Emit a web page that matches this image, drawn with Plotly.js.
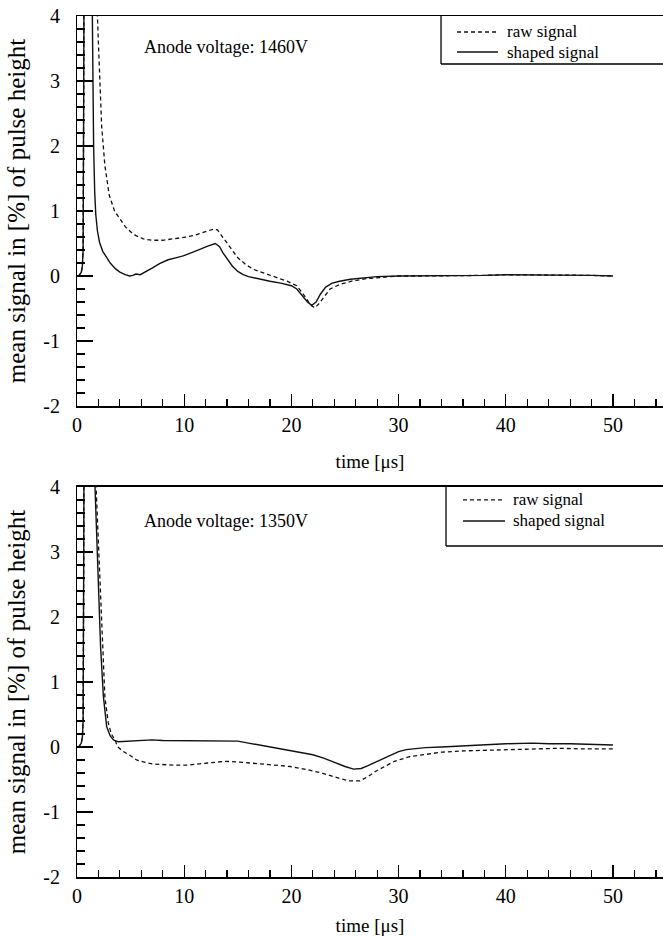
<!DOCTYPE html>
<html>
<head>
<meta charset="utf-8">
<script src="https://cdn.plot.ly/plotly-3.0.1.min.js"></script>
<style>html,body{margin:0;padding:0;background:#fff}#chart{width:663px;height:936px}</style>
</head>
<body>
<div id="chart"></div>
<script>
// ---- Data (time in µs, signal in % of pulse height) ----
const topShapedX = [0,0.2,0.4,0.5,0.57,0.6,0.63,0.7,1.0,1.3,1.42,1.47,1.55,1.65,1.75,1.9,2.1,2.4,2.7,3.1,3.6,4.0,4.5,4.9,5.2,5.5,5.9,6.5,7.0,7.7,8.5,9.2,9.9,10.7,11.5,12.2,12.9,13.3,13.6,14.0,14.5,15.0,15.5,16.0,17.0,18.0,19.0,20.0,20.5,21.0,21.5,21.9,22.3,22.7,23.2,23.8,24.5,25.5,26.5,28,30,32,34,36,38,40,42,44,46,48,50];
const topShapedY = [0,0.01,0.06,0.15,0.4,1.0,3,8,100,20,4.2,3,2,1.3,0.95,0.7,0.52,0.38,0.3,0.2,0.11,0.06,0.02,0.0,0.01,0.03,0.02,0.07,0.12,0.19,0.25,0.28,0.31,0.36,0.42,0.46,0.5,0.45,0.36,0.26,0.15,0.07,0.02,-0.01,-0.05,-0.08,-0.11,-0.15,-0.2,-0.3,-0.4,-0.45,-0.4,-0.28,-0.17,-0.11,-0.08,-0.05,-0.03,-0.01,0.0,0.0,0.0,0.01,0.01,0.02,0.02,0.02,0.02,0.01,0.0];
const topRawX = [0,0.2,0.4,0.5,0.57,0.6,0.63,0.7,1.0,1.5,1.9,2.1,2.3,2.6,3.0,3.5,4.0,4.5,5.0,5.5,6.2,7.0,8.0,9.0,10.2,11.0,12.0,12.7,13.1,13.5,14.0,14.5,15.0,15.8,16.5,17.7,18.5,19.6,20.5,21.2,21.8,22.2,22.6,23.1,23.6,24.5,25.6,27,28.4,30,32,34,36,38,40,42,44,46,48,50];
const topRawY = [0,0.01,0.06,0.15,0.4,1.0,3,8,100,30,4.0,3.0,2.3,1.7,1.25,1.0,0.88,0.76,0.68,0.62,0.57,0.55,0.55,0.57,0.6,0.63,0.68,0.72,0.71,0.62,0.5,0.38,0.28,0.17,0.1,0.03,-0.02,-0.08,-0.15,-0.3,-0.45,-0.49,-0.42,-0.3,-0.2,-0.13,-0.08,-0.04,-0.02,0.0,0.0,0.0,0.01,0.01,0.02,0.02,0.02,0.02,0.01,0.0];

const botShapedX = [0,0.2,0.4,0.5,0.57,0.6,0.63,0.7,1.0,1.5,1.68,2.0,2.2,2.46,2.77,3.1,3.4,3.86,5,6,7,8,9,10,11,12,13,14,15,16,17,18,19,20,21,22,23,24,25,25.8,26.5,27.1,28,28.9,30,30.7,32.5,34,36,38,40,42.5,44,46,48,50];
const botShapedY = [0,0.01,0.06,0.15,0.4,1.0,3,8,100,20,4,2.56,1.54,0.78,0.31,0.17,0.11,0.08,0.09,0.1,0.11,0.1,0.1,0.09,0.09,0.1,0.09,0.1,0.09,0.06,0.03,0.0,-0.02,-0.05,-0.08,-0.12,-0.17,-0.24,-0.3,-0.34,-0.33,-0.29,-0.22,-0.15,-0.07,-0.04,-0.01,0.0,0.02,0.04,0.05,0.06,0.05,0.05,0.04,0.03];
const botRawX = [0,0.2,0.4,0.5,0.57,0.6,0.63,0.7,1.0,1.6,1.78,2.14,2.36,2.6,2.92,3.2,3.54,3.8,4.32,4.87,5.56,5.95,7.0,7.74,9,10.25,11.5,12.5,13.8,15,16.35,18,19.9,21.5,22.8,24,25.3,26.4,27.1,27.8,28.7,29.6,31,32.5,34,36.1,38,39.7,41.5,43.3,45,47,50];
const botRawY = [0,0.01,0.06,0.15,0.4,1.0,3,8,100,20,4,2.57,1.54,0.77,0.37,0.2,0.11,0.0,-0.07,-0.12,-0.2,-0.22,-0.26,-0.27,-0.28,-0.28,-0.26,-0.24,-0.22,-0.23,-0.25,-0.27,-0.3,-0.35,-0.4,-0.46,-0.52,-0.52,-0.46,-0.38,-0.3,-0.22,-0.15,-0.11,-0.08,-0.06,-0.05,-0.04,-0.03,-0.02,-0.02,-0.03,-0.03];

const seriesNames = ["raw signal", "shaped signal"];
const panelLabels = ["Anode voltage: 1460V", "Anode voltage: 1350V"];
const xTitle = "time [μs]";
const yTitle = "mean signal in [%] of pulse height";
const yTickVals = [-2,-1,0,1,2,3,4];
const yTickText = ["-2","-1","0","1","2","3","4"];
const xTickVals = [0,10,20,30,40,50];
const xTickText = ["0","10","20","30","40","50"];

// ---- Styling ----
const FONT = "Liberation Serif, Times New Roman, serif";
const FS = 18;
const LEGFS = 17;
const TICKFS = 20;
const rawLine = {color:"#111", width:1.3, dash:"4px,3px"};
const shapedLine = {color:"#111", width:1.4, dash:"solid"};

const traces = [
  {x:topRawX, y:topRawY, name:seriesNames[0], mode:"lines", line:rawLine, xaxis:"x", yaxis:"y", showlegend:false},
  {x:topShapedX, y:topShapedY, name:seriesNames[1], mode:"lines", line:shapedLine, xaxis:"x", yaxis:"y", showlegend:false},
  {x:botRawX, y:botRawY, name:seriesNames[0], mode:"lines", line:rawLine, xaxis:"x2", yaxis:"y2", showlegend:false},
  {x:botShapedX, y:botShapedY, name:seriesNames[1], mode:"lines", line:shapedLine, xaxis:"x2", yaxis:"y2", showlegend:false},
  // empty helper traces so the label-carrying overlay axes are drawn
  {x:[], y:[], mode:"lines", xaxis:"x", yaxis:"y3", showlegend:false, hoverinfo:"skip"},
  {x:[], y:[], mode:"lines", xaxis:"x2", yaxis:"y4", showlegend:false, hoverinfo:"skip"}
];

function xAxis(anchor) {
  return {
    anchor: anchor, range:[0, 54.66], domain:[0,1],
    showline:true, linecolor:"#000", linewidth:1.5, mirror:true,
    ticks:"inside", ticklen:12, tickwidth:1.2, tickcolor:"#000",
    tickmode:"array", tickvals:xTickVals, ticktext:xTickText,
    minor:{tickmode:"linear", tick0:0, dtick:2, ticks:"inside", ticklen:7, tickwidth:1.2, tickcolor:"#000"},
    showgrid:false, zeroline:false,
    tickfont:{family:FONT, size:TICKFS, color:"#000"},
    title:{text:xTitle, font:{family:FONT, size:19, color:"#000"}, standoff:20}
  };
}
// main y axis: frame line + inside ticks, no labels
function yAxis(domainY, anchor) {
  return {
    anchor: anchor, range:[-2,4], domain:domainY,
    showline:true, linecolor:"#000", linewidth:1.5, mirror:false,
    ticks:"inside", ticklen:16, tickwidth:1.2, tickcolor:"#000",
    tickmode:"array", tickvals:yTickVals, showticklabels:false,
    minor:{tickmode:"linear", tick0:0, dtick:0.2, ticks:"inside", ticklen:8, tickwidth:1.2, tickcolor:"#000"},
    showgrid:false, zeroline:false,
    title:{text:yTitle, font:{family:FONT, size:25, color:"#000"}, standoff:42}
  };
}
// overlay y axis carrying the tick labels, pushed away from the frame
function yLabelAxis(overlay, anchor) {
  return {
    overlaying: overlay, anchor: anchor, side:"left", range:[-2,4],
    showline:false, showgrid:false, zeroline:false,
    ticks:"outside", ticklen:12, tickcolor:"rgba(0,0,0,0)",
    tickmode:"array", tickvals:yTickVals, ticktext:yTickText,
    tickfont:{family:FONT, size:TICKFS, color:"#000"}
  };
}

const topDom = [0.547, 1];
const botDom = [0, 0.453];

// Legend boxes drawn in each panel's domain coordinates
function legendParts(xr, yr, boxLeft, boxBottom, sx0, sx1, tx, yRaw, yShaped) {
  const shapes = [
    {type:"line", xref:xr, yref:yr, x0:boxLeft, x1:boxLeft, y0:boxBottom, y1:1, line:{color:"#000", width:1.3}},
    {type:"line", xref:xr, yref:yr, x0:boxLeft, x1:1.05, y0:boxBottom, y1:boxBottom, line:{color:"#000", width:1.3}},
    {type:"line", xref:xr, yref:yr, x0:sx0, x1:sx1, y0:yRaw, y1:yRaw, line:{color:"#111", width:1.3, dash:"4px,3px"}},
    {type:"line", xref:xr, yref:yr, x0:sx0, x1:sx1, y0:yShaped, y1:yShaped, line:{color:"#111", width:1.4}}
  ];
  const anns = [
    {xref:xr, yref:yr, x:tx, y:yRaw, xanchor:"left", yanchor:"middle", showarrow:false, text:seriesNames[0], font:{family:FONT, size:LEGFS, color:"#000"}},
    {xref:xr, yref:yr, x:tx, y:yShaped, xanchor:"left", yanchor:"middle", showarrow:false, text:seriesNames[1], font:{family:FONT, size:LEGFS, color:"#000"}}
  ];
  return {shapes, anns};
}
// top panel: box left 441px, bottom 64px, entries at 32px / 52px
const lgTop = legendParts("x domain", "y domain", 0.6212, 0.8769, 0.6485, 0.7184, 0.7300, 0.9590, 0.9077);
// bottom panel: box left 446px, bottom 546px, entries at 500px / 521px
const lgBot = legendParts("x2 domain", "y2 domain", 0.6297, 0.8487, 0.6587, 0.7304, 0.7400, 0.9667, 0.9128);

const layout = {
  width:663, height:936,
  margin:{l:77, r:0, t:16, b:59, autoexpand:false},
  paper_bgcolor:"#fff", plot_bgcolor:"#fff",
  showlegend:false,
  xaxis: xAxis("y"),
  yaxis: yAxis(topDom, "x"),
  xaxis2: xAxis("y2"),
  yaxis2: yAxis(botDom, "x2"),
  yaxis3: yLabelAxis("y", "x"),
  yaxis4: yLabelAxis("y2", "x2"),
  shapes: lgTop.shapes.concat(lgBot.shapes),
  annotations:[
    {xref:"x domain", yref:"y domain", x:0.111, y:0.92, xanchor:"left", yanchor:"middle", showarrow:false,
     text:panelLabels[0], font:{family:FONT, size:FS, color:"#000"}},
    {xref:"x2 domain", yref:"y2 domain", x:0.111, y:0.913, xanchor:"left", yanchor:"middle", showarrow:false,
     text:panelLabels[1], font:{family:FONT, size:FS, color:"#000"}}
  ].concat(lgTop.anns, lgBot.anns)
};

Plotly.newPlot("chart", traces, layout, {displayModeBar:false, staticPlot:true});
</script>
</body>
</html>
